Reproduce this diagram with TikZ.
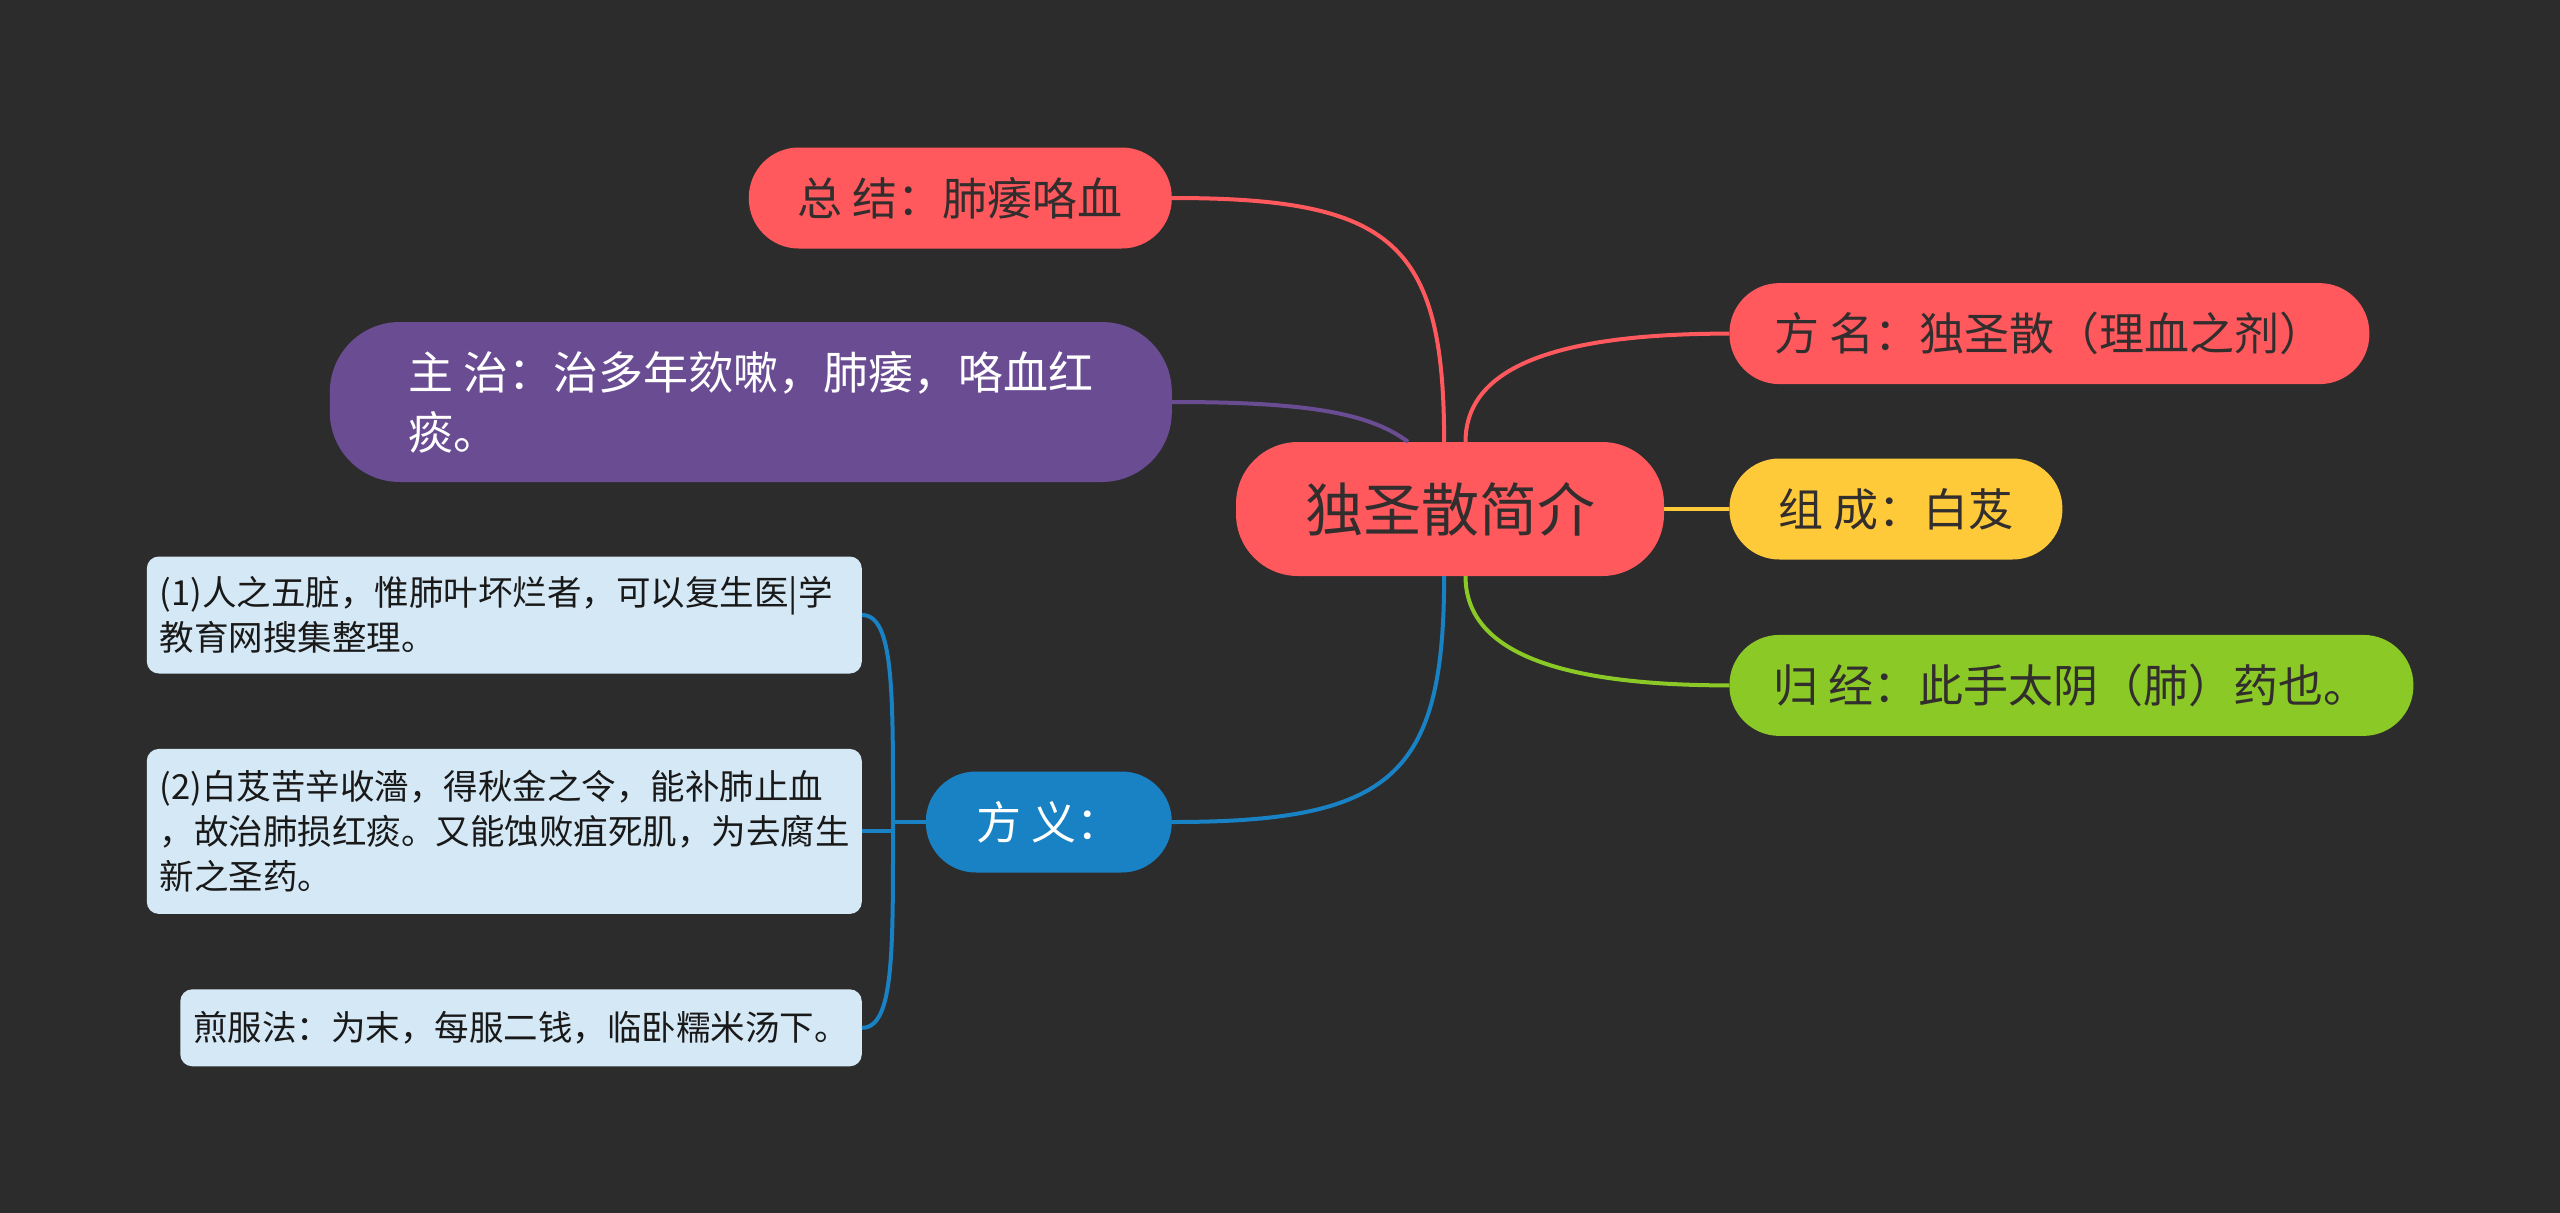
\documentclass[tikz,border=0pt]{standalone}
\usepackage{fontspec}
\setmainfont{Noto Sans CJK SC}
\usepackage{tikz}
\usetikzlibrary{positioning}

\definecolor{bgdark}{HTML}{2C2C2C}
\definecolor{mred}{HTML}{FF595E}
\definecolor{mpurple}{HTML}{6A4C93}
\definecolor{myellow}{HTML}{FFCA3A}
\definecolor{mgreen}{HTML}{8AC926}
\definecolor{mblue}{HTML}{1982C4}
\definecolor{leafblue}{HTML}{D5E8F5}
\definecolor{ink}{HTML}{332E2E}

\begin{document}
\begin{tikzpicture}[
  x=1pt, y=-1pt,
  topic/.style={rectangle, rounded corners=50pt, minimum height=101pt, inner xsep=0pt, align=center, text=ink, font=\fontsize{45}{60}\selectfont},
  leaf/.style={rectangle, rounded corners=12pt, fill=leafblue, inner xsep=13pt, align=left, text=black!90, font=\fontsize{34.5}{45}\selectfont},
  link/.style={line width=4pt}
]
  \useasboundingbox (0,0) rectangle (2560,1213);
  \fill[bgdark] (0,0) rectangle (2560,1213);

  \node (root) [topic, fill=mred, minimum width=428pt, minimum height=134pt, rounded corners=62pt, font=\fontsize{58}{70}\selectfont] at (1450,509) {独圣散简介};

  \node (summ) [topic, fill=mred, minimum width=423pt, anchor=east] at (1172,198) {总 结：肺痿咯血};
  \node (zhuzhi) [topic, fill=mpurple, minimum width=842pt, minimum height=160pt, rounded corners=70pt, align=left, text=white, anchor=east] at (1172,402) {主 治：治多年欬嗽，肺痿，咯血红\\痰。};
  \node (fangyi) [topic, fill=mblue, minimum width=246pt, text=white, anchor=east] at (1172,822) {方 义：};

  \node (zucheng) [topic, fill=myellow, minimum width=333pt, right=65pt of root] {组 成：白芨};
  \node (fangming) [topic, fill=mred, minimum width=640pt, above right=74pt and 0pt of zucheng.north west] {方 名：独圣散（理血之剂）};
  \node (guijing) [topic, fill=mgreen, minimum width=684pt, below right=75pt and 0pt of zucheng.south west] {归 经：此手太阴（肺）药也。};

  \node (yi1) [leaf, text width=689pt, minimum height=117pt, anchor=east] at (862,615) {(1)人之五脏，惟肺叶坏烂者，可以复生医|学\\教育网搜集整理。};
  \node (yi2) [leaf, text width=689pt, minimum height=165pt, below left=75pt and 0pt of yi1.south east] {(2)白芨苦辛收濇，得秋金之令，能补肺止血\\，故治肺损红痰。又能蚀败疽死肌，为去腐生\\新之圣药。};
  \node (jianfu) [leaf, minimum height=77pt, below left=75pt and 0pt of yi2.south east] {煎服法：为末，每服二钱，临卧糯米汤下。};

  \coordinate (brk) at (893,822);

  \draw [link, mred] (root.95) .. controls +(0,-200) and +(220,0) .. (summ.east);
  \draw [link, mpurple] (root.122) .. controls +(-40,-30) and +(130,0) .. (zhuzhi.east);
  \draw [link, mred] (root.77) .. controls +(0,-80) and +(-160,0) .. (fangming.west);
  \draw [link, myellow] (root.east) -- (zucheng.west);
  \draw [link, mgreen] (root.-77) .. controls +(0,80) and +(-160,0) .. (guijing.west);
  \draw [link, mblue] (root.-95) .. controls +(0,200) and +(220,0) .. (fangyi.east);

  \draw [link, mblue] (fangyi.west) -- (brk);
  \draw [link, mblue] (yi1.east) .. controls +(32,0) and +(0,-130) .. (brk) .. controls +(0,130) and +(32,0) .. (jianfu.east);
  \draw [link, mblue] (brk |- yi2.east) -- (yi2.east);
\end{tikzpicture}
\end{document}
